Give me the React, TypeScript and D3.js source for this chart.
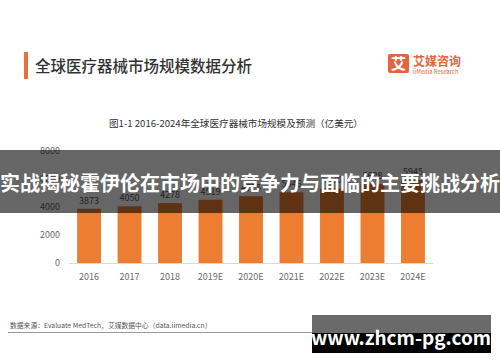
import React, { useEffect, useRef } from 'react';
import * as d3 from 'd3';

const years = ['2016', '2017', '2018', '2019E', '2020E', '2021E', '2022E', '2023E', '2024E'];
const marketSize = [3873, 4050, 4278, 4519, 4775, 5046, 5330, 5628, 5945];
const yTicks = [0, 2000, 4000, 6000, 8000];

const FONT = '"Noto Sans CJK SC", "Noto Sans", sans-serif';

const App = () => {
  const svgRef = useRef<SVGSVGElement>(null);

  useEffect(() => {
    const svg = d3.select(svgRef.current);
    svg.selectAll('*').remove();

    const width = 500;
    const height = 362;
    svg.attr('width', width).attr('height', height).style('font-family', FONT);

    svg.append('rect').attr('width', width).attr('height', height).attr('fill', '#fff');

    // 标题区
    svg.append('rect').attr('x', 24).attr('y', 52).attr('width', 4).attr('height', 27).attr('fill', '#ec6c3b');
    svg.append('text').attr('x', 35).attr('y', 71.5)
      .attr('font-size', 15.5).attr('font-weight', 500).attr('fill', '#333')
      .text('全球医疗器械市场规模数据分析');

    // logo
    svg.append('rect').attr('x', 388).attr('y', 54).attr('width', 21).attr('height', 19).attr('rx', 2).attr('fill', '#e4643c');
    svg.append('text').attr('x', 398.5).attr('y', 69).attr('text-anchor', 'middle')
      .attr('font-size', 15).attr('font-weight', 700).attr('fill', '#fff').text('艾');
    svg.append('text').attr('x', 413).attr('y', 65.5)
      .attr('font-size', 12).attr('font-weight', 700).attr('fill', '#e4643c').text('艾媒咨询');
    svg.append('text').attr('x', 413).attr('y', 74)
      .attr('font-size', 5.8).attr('fill', '#e4643c').text('iiMedia Research');

    // 图表标题
    svg.append('text').attr('x', 236).attr('y', 126.5).attr('text-anchor', 'middle')
      .attr('font-size', 9.6).attr('fill', '#333')
      .text('图1-1 2016-2024年全球医疗器械市场规模及预测（亿美元）');

    const margin = { left: 69, right: 67, top: 151, bottom: 99 };
    const x = d3.scaleBand().domain(years).range([margin.left, width - margin.right]).paddingInner(0.41).paddingOuter(0.2);
    const y = d3.scaleLinear().domain([0, 8000]).range([height - margin.bottom, margin.top]);

    const g = svg.append('g');

    g.selectAll('.ytick')
      .data(yTicks)
      .enter()
      .append('text')
      .attr('x', 60)
      .attr('y', d => y(d) + 3)
      .attr('text-anchor', 'end')
      .attr('font-size', 9)
      .attr('fill', '#6b6b6b')
      .text(d => d);

    g.selectAll('.bar')
      .data(marketSize)
      .enter()
      .append('rect')
      .attr('x', (d, i) => x(years[i]) as number)
      .attr('y', d => y(d))
      .attr('width', x.bandwidth())
      .attr('height', d => y(0) - y(d))
      .attr('fill', '#ed7d31');

    g.selectAll('.val')
      .data(marketSize)
      .enter()
      .append('text')
      .attr('x', (d, i) => (x(years[i]) as number) + x.bandwidth() / 2)
      .attr('y', d => y(d) - 5)
      .attr('text-anchor', 'middle')
      .attr('font-size', 9)
      .attr('fill', '#555')
      .text(d => d);

    g.append('line')
      .attr('x1', margin.left).attr('x2', width - margin.right)
      .attr('y1', y(0) + 0.5).attr('y2', y(0) + 0.5)
      .attr('stroke', '#d9d9d9');

    g.selectAll('.xlab')
      .data(years)
      .enter()
      .append('text')
      .attr('x', d => (x(d) as number) + x.bandwidth() / 2)
      .attr('y', 280)
      .attr('text-anchor', 'middle')
      .attr('font-size', 9)
      .attr('fill', '#6b6b6b')
      .text(d => d);

    // 数据来源
    svg.append('text').attr('x', 10).attr('y', 327.5)
      .attr('font-size', 6.8).attr('fill', '#555')
      .text('数据来源：Evaluate MedTech，艾媒数据中心（data.iimedia.cn）');
    svg.append('line').attr('x1', 8).attr('x2', 330).attr('y1', 332.5).attr('y2', 332.5)
      .attr('stroke', '#999').attr('stroke-width', 1);

    // 横幅
    svg.append('rect').attr('x', 0).attr('y', 150).attr('width', width).attr('height', 63)
      .attr('fill', 'rgba(0,0,0,0.6)');
    svg.append('text').attr('x', 250).attr('y', 191).attr('text-anchor', 'middle')
      .attr('font-size', 20).attr('font-weight', 700).attr('fill', '#fff')
      .text('实战揭秘霍伊伦在市场中的竞争力与面临的主要挑战分析');

    // 右下角网址
    svg.append('rect').attr('x', 312).attr('y', 315).attr('width', 179).attr('height', 38).attr('fill', '#000');
    svg.append('rect').attr('x', 312).attr('y', 315).attr('width', 179).attr('height', 18).attr('fill', '#6a6a6a');
    svg.append('text').attr('x', 401).attr('y', 345).attr('text-anchor', 'middle')
      .attr('font-size', 19).attr('font-weight', 700).attr('fill', '#fff')
      .text('www.zhcm-pg.com');
  }, []);

  return <svg ref={svgRef} style={{ position: 'absolute', left: 0, top: 0 }}></svg>;
};

export default App;
